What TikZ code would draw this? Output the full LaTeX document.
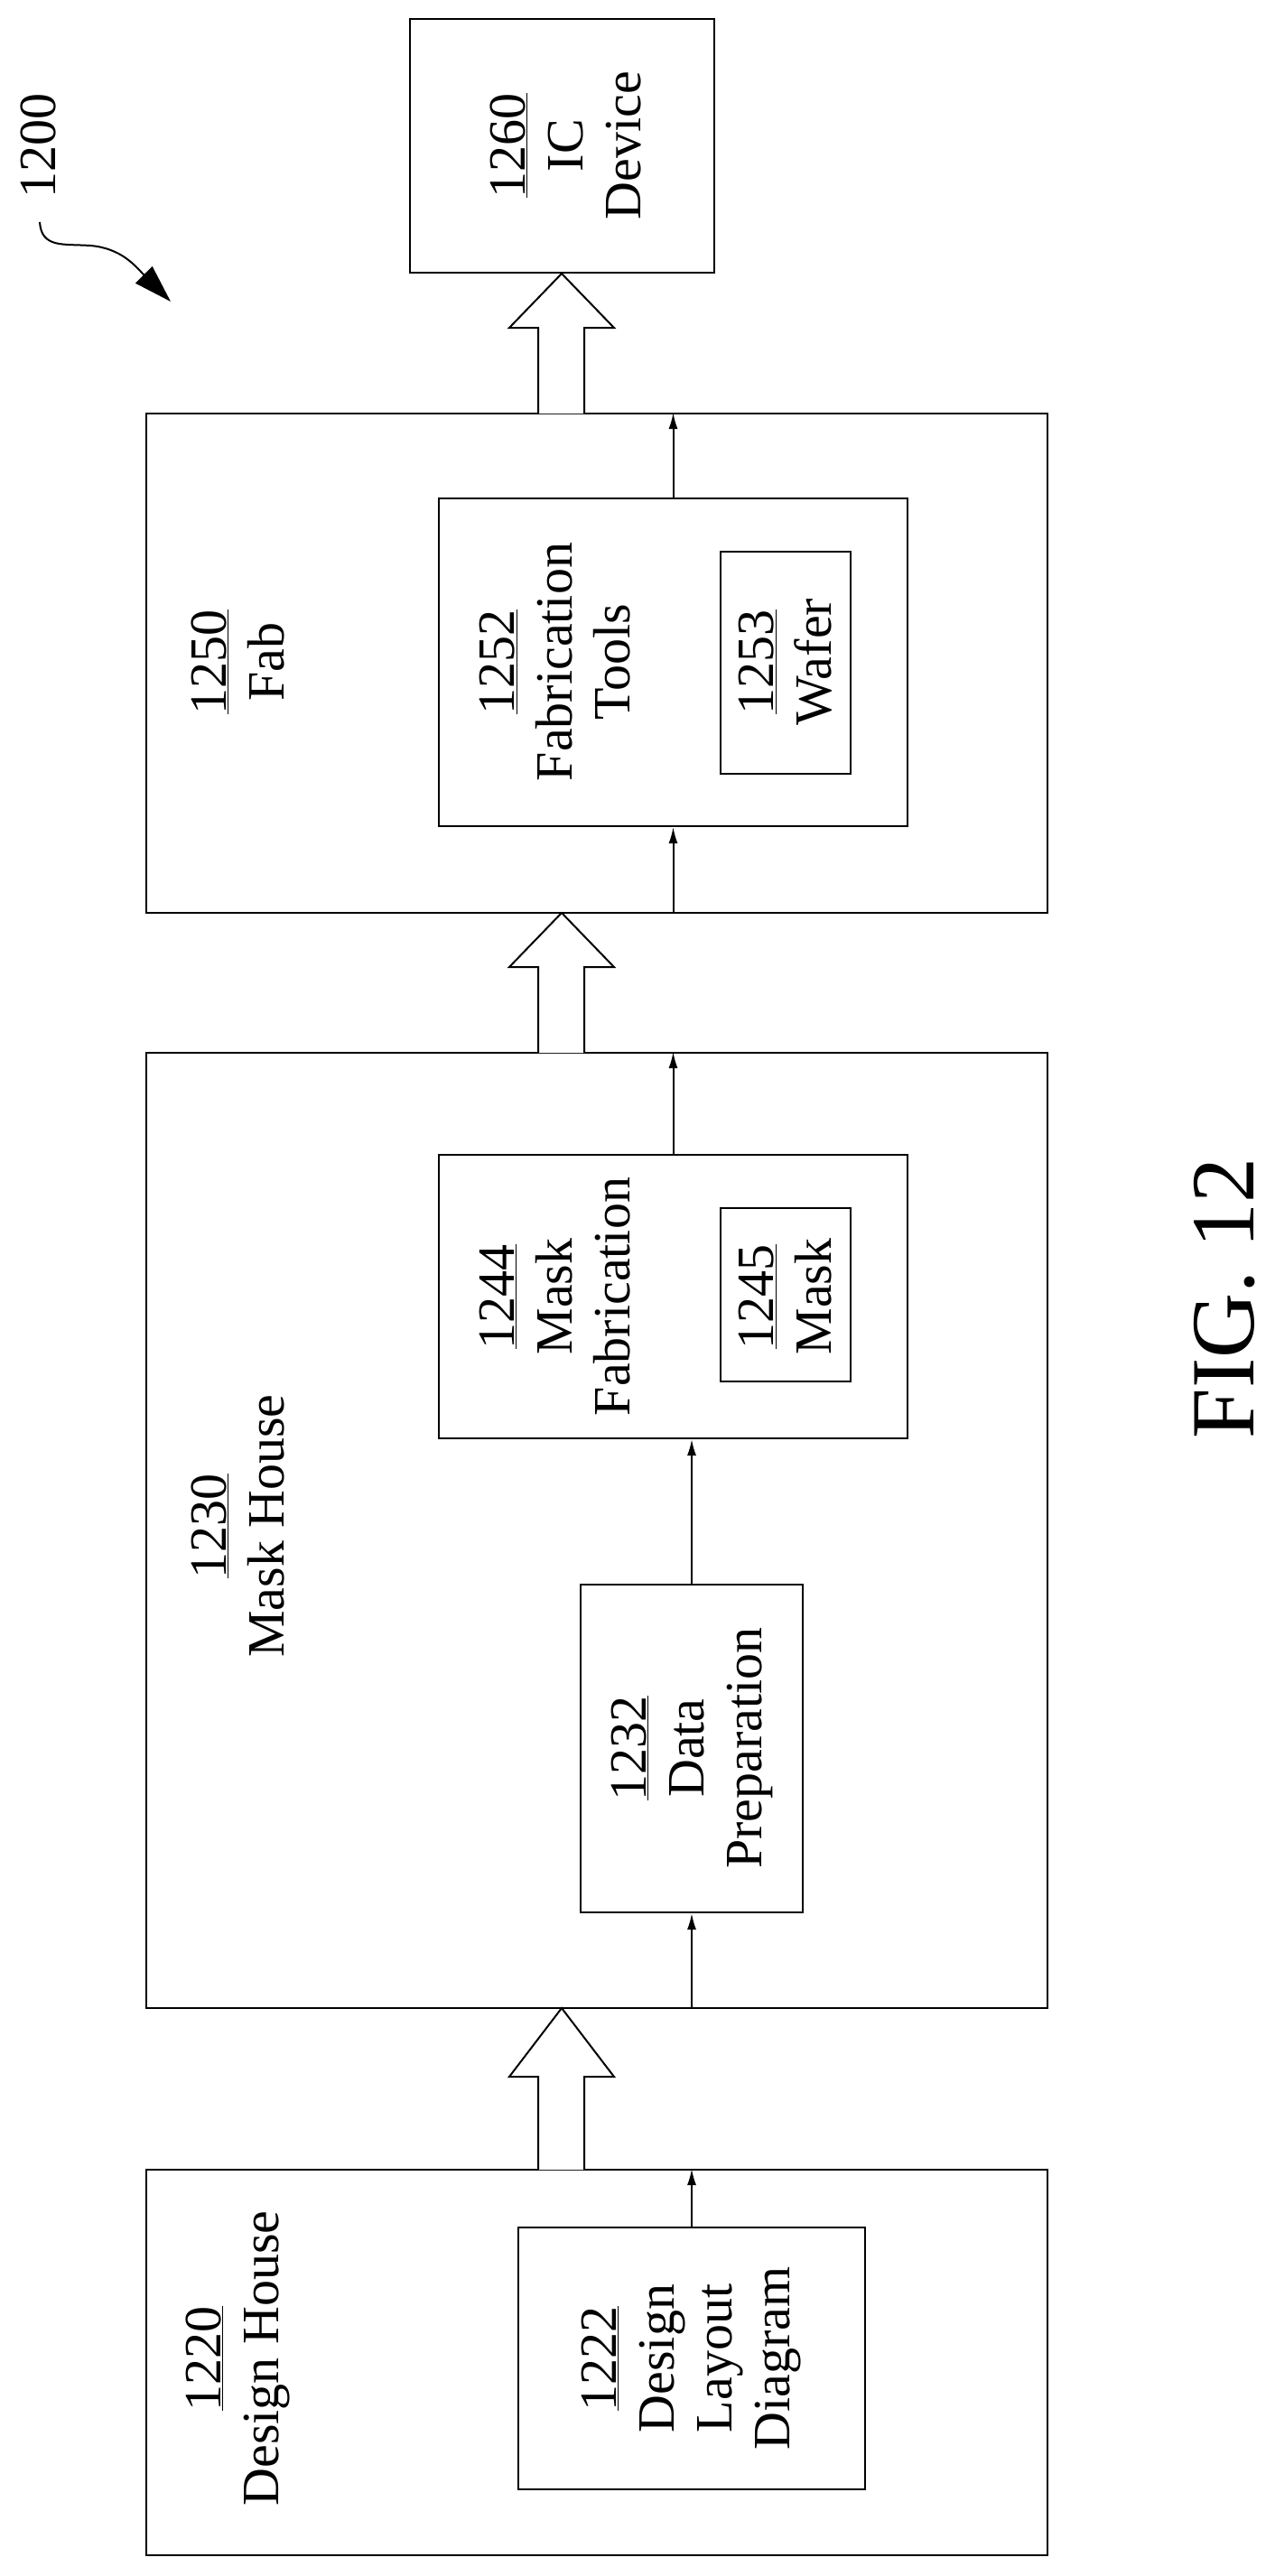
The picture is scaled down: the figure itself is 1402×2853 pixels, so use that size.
\documentclass[tikz,border=0pt]{standalone}
\usepackage{fontspec}
\setmainfont{Liberation Serif}
\usetikzlibrary{arrows.meta,fit}
\begin{document}
\begin{tikzpicture}[x=1pt,y=-1pt,
  box/.style={draw,line width=2pt,inner sep=0pt},
  txt/.style={rotate=90,align=center,font=\fontsize{58}{64}\selectfont,inner sep=0pt},
  thin/.style={line width=2pt,-{Latex[length=18pt,width=10pt]}},
  hollow/.style={draw,line width=2pt,fill=white,line join=miter}]
\useasboundingbox (0,0) rectangle (1402,2853);
\newcommand{\bx}[5]{\node[box,fit={(#2,#3)(#4,#5)}] (#1) {};}
\bx{ic}{454}{21}{791}{302}
\bx{fab}{162}{458}{1160}{1011}
\bx{ft}{486}{552}{1005}{915}
\bx{wf}{798}{611}{942}{857}
\bx{mh}{162}{1166}{1160}{2224}
\bx{mf}{486}{1279}{1005}{1593}
\bx{mk}{798}{1338}{942}{1530}
\bx{dp}{643}{1755}{889}{2118}
\bx{dh}{162}{2403}{1160}{2830}
\bx{dl}{574}{2467}{958}{2757}
\node[txt] (t1260) at (626,161) {\underline{1260}\\IC\\Device};
\node[txt] (t1250) at (263,733) {\underline{1250}\\Fab};
\node[txt] (t1252) at (615,733) {\underline{1252}\\Fabrication\\Tools};
\node[txt] (t1253) at (870,733) {\underline{1253}\\Wafer};
\node[txt] (t1230) at (263,1690) {\underline{1230}\\Mask House};
\node[txt] (t1244) at (615,1436) {\underline{1244}\\Mask\\Fabrication};
\node[txt] (t1245) at (870,1436) {\underline{1245}\\Mask};
\node[txt] (t1232) at (766,1936) {\underline{1232}\\Data\\Preparation};
\node[txt] (t1220) at (263,2612) {\underline{1220}\\Design House};
\node[txt] (t1222) at (766,2612) {\underline{1222}\\Design\\Layout\\Diagram};
\node[txt,font=\fontsize{100}{100}\selectfont] (fig) at (1356,1438) {FIG. 12};
\node[txt] (t1200) at (42,161) {1200};
% thin arrows
\draw[thin] (dl.north) -- (dl.north |- dh.north);
\draw[thin] (dp.south |- mh.south) -- (dp.south);
\draw[thin] (dp.north) -- (dp.north |- mf.south);
\draw[thin] (mf.north) -- (mf.north |- mh.north);
\draw[thin] (ft.south |- fab.south) -- (ft.south);
\draw[thin] (ft.north) -- (ft.north |- fab.north);
% hollow arrows
\draw[hollow] (596,2403) -- (596,2300) -- (564,2300) -- (622,2224) -- (680,2300) -- (647,2300) -- (647,2403);
\draw[hollow] (596,1166) -- (596,1071) -- (564,1071) -- (622,1011) -- (680,1071) -- (647,1071) -- (647,1166);
\draw[hollow] (596,458) -- (596,363) -- (564,363) -- (622,303) -- (680,363) -- (647,363) -- (647,458);
% ref arrow
\coordinate (s0) at (44,246);
\draw[line width=2pt,-{Triangle[length=42pt,width=26pt]}] (s0) .. controls (46,275) and (70,270) .. (100,272) .. controls (135,275) and (150,295) .. (189,334);
\end{tikzpicture}
\end{document}
